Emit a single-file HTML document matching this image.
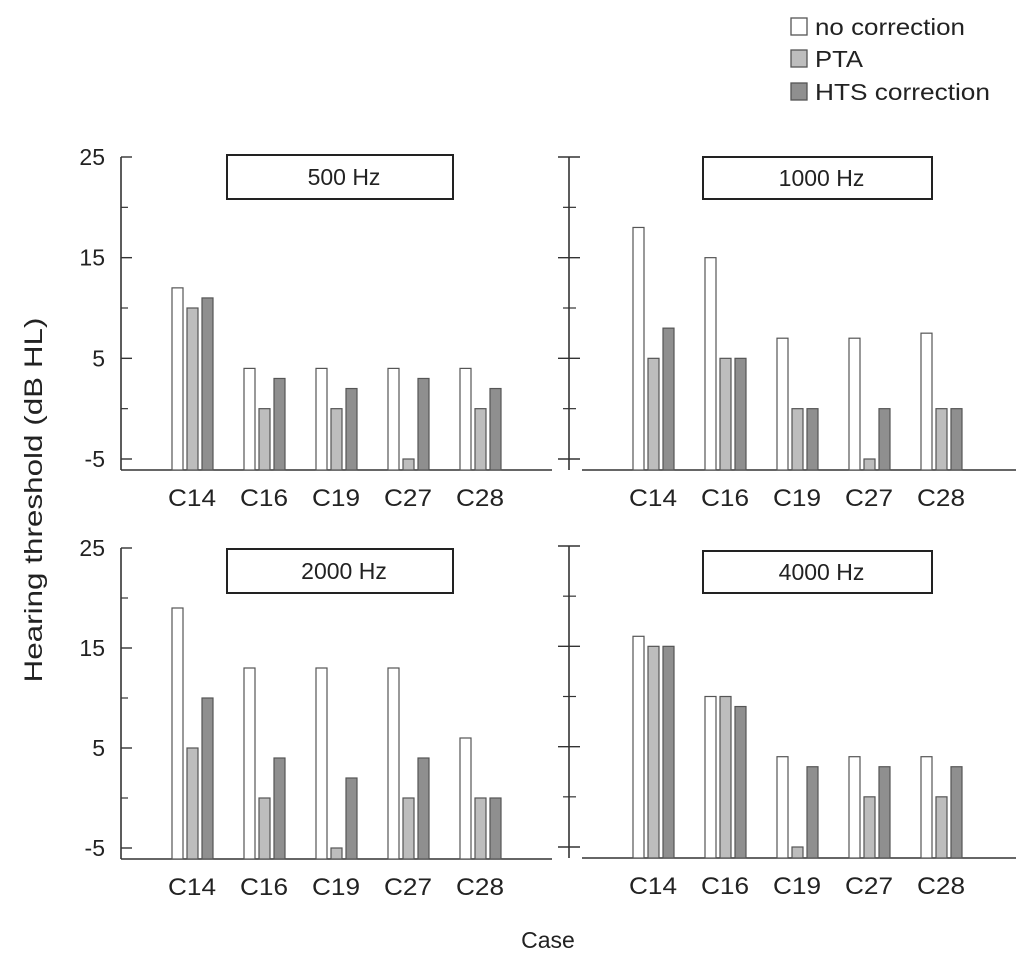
<!DOCTYPE html>
<html><head><meta charset="utf-8"><style>
html,body{margin:0;padding:0;background:#fff}
svg{display:block;font-family:"Liberation Sans",sans-serif}
</style></head><body>
<svg id="c" width="1024" height="961" viewBox="0 0 1024 961">
<g>
<rect x="791" y="18" width="16" height="17" fill="#fff" stroke="#555" stroke-width="1.3"/>
<text x="815" y="35" font-size="23" textLength="150" lengthAdjust="spacingAndGlyphs" fill="#222">no correction</text>
<rect x="791" y="50" width="16" height="17" fill="#bdbdbd" stroke="#555" stroke-width="1.3"/>
<text x="815" y="67" font-size="23" textLength="48" lengthAdjust="spacingAndGlyphs" fill="#222">PTA</text>
<rect x="791" y="83" width="16" height="17" fill="#8f8f8f" stroke="#555" stroke-width="1.3"/>
<text x="815" y="100" font-size="23" textLength="175" lengthAdjust="spacingAndGlyphs" fill="#222">HTS correction</text>
</g>
<text x="0" y="0" transform="translate(42,500) rotate(-90)" text-anchor="middle" font-size="25" textLength="365" lengthAdjust="spacingAndGlyphs" fill="#222">Hearing threshold (dB HL)</text>
<text x="548" y="948" text-anchor="middle" font-size="23" fill="#222">Case</text>
</svg>
<script>
const categories = ["C14","C16","C19","C27","C28"];
const panelTitles = ["500 Hz","1000 Hz","2000 Hz","4000 Hz"];
const noCorrection = [[12,4,4,4,4],[18,15,7,7,7.5],[19,13,13,13,6],[16,10,4,4,4]];
const ptaValues = [[10,0,0,-5,0],[5,5,0,-5,0],[5,0,-5,0,0],[15,10,-5,0,0]];
const htsValues = [[11,3,2,3,2],[8,5,0,0,0],[10,4,2,4,0],[15,9,3,3,3]];
const yTickLabels = [25,15,5,-5];
const yMinorTicks = [20,10,0];

const svg = document.getElementById('c');
const NS = 'http://www.w3.org/2000/svg';
function mk(tag, attrs){const e=document.createElementNS(NS,tag);for(const k in attrs)e.setAttribute(k,attrs[k]);svg.appendChild(e);return e;}

const panels = [
 {ax:121, xEnd:552, top:157, base:470, left:true, g0:192, box:[227,155,226,44]},
 {ax:569, xEnd:1016, top:157, base:470, left:false, g0:653, box:[703,157,229,42]},
 {ax:121, xEnd:552, top:548, base:859, left:true, g0:192, box:[227,549,226,44]},
 {ax:569, xEnd:1016, top:546, base:858, left:false, g0:653, box:[703,551,229,42]}
];
const fills = ['#ffffff','#bdbdbd','#8f8f8f'];
const series = [noCorrection, ptaValues, htsValues];
const serNames = ['no-correction','pta','hts'];

panels.forEach((p,pi)=>{
  const y = v => p.top + (25 - v) * (p.base - 11 - p.top) / 30;
  const xg = i => p.g0 + i * 72;
  let e = mk('line',{x1:p.ax,y1:p.top,x2:p.ax,y2:p.base,stroke:'#333','stroke-width':1.6});
  
  
  const xs = p.left ? p.ax : p.ax + 13;
  e = mk('line',{x1:xs,y1:p.base,x2:p.xEnd,y2:p.base,stroke:'#333','stroke-width':1.6});
  
  
  yTickLabels.forEach(v=>{
    const t = mk('line',{x1:p.left?p.ax:p.ax-11,y1:y(v),x2:p.ax+11,y2:y(v),stroke:'#333','stroke-width':1.4});
    
    
    if(p.left){
      const l = mk('text',{x:p.ax-16,y:y(v)+8,'text-anchor':'end','font-size':23,fill:'#222'});
      l.textContent = v;
      
      
    }
  });
  yMinorTicks.forEach(v=>{
    const t = mk('line',{x1:p.left?p.ax:p.ax-6,y1:y(v),x2:p.ax+7,y2:y(v),stroke:'#333','stroke-width':1.2});
    
    
  });
  const b = p.box;
  e = mk('rect',{x:b[0],y:b[1],width:b[2],height:b[3],fill:'#fff',stroke:'#222','stroke-width':2});
  
  
  e = mk('text',{x:b[0]+b[2]/2+4,y:b[1]+b[3]/2+8,'text-anchor':'middle','font-size':23,fill:'#222'});
  e.textContent = panelTitles[pi];
  
  
  categories.forEach((c,i)=>{
    series.forEach((s,si)=>{
      const x = xg(i) - 20 + si*15;
      const top = y(s[pi][i]);
      const r = mk('rect',{x:x,y:top,width:11,height:p.base-top,fill:fills[si],stroke:'#555','stroke-width':1.2});
      
      
    });
    const l = mk('text',{x:xg(i),y:p.base+36,'text-anchor':'middle','font-size':24,textLength:48,lengthAdjust:'spacingAndGlyphs',fill:'#222'});
    l.textContent = c;
    
    
  });
});
</script>
</body></html>
